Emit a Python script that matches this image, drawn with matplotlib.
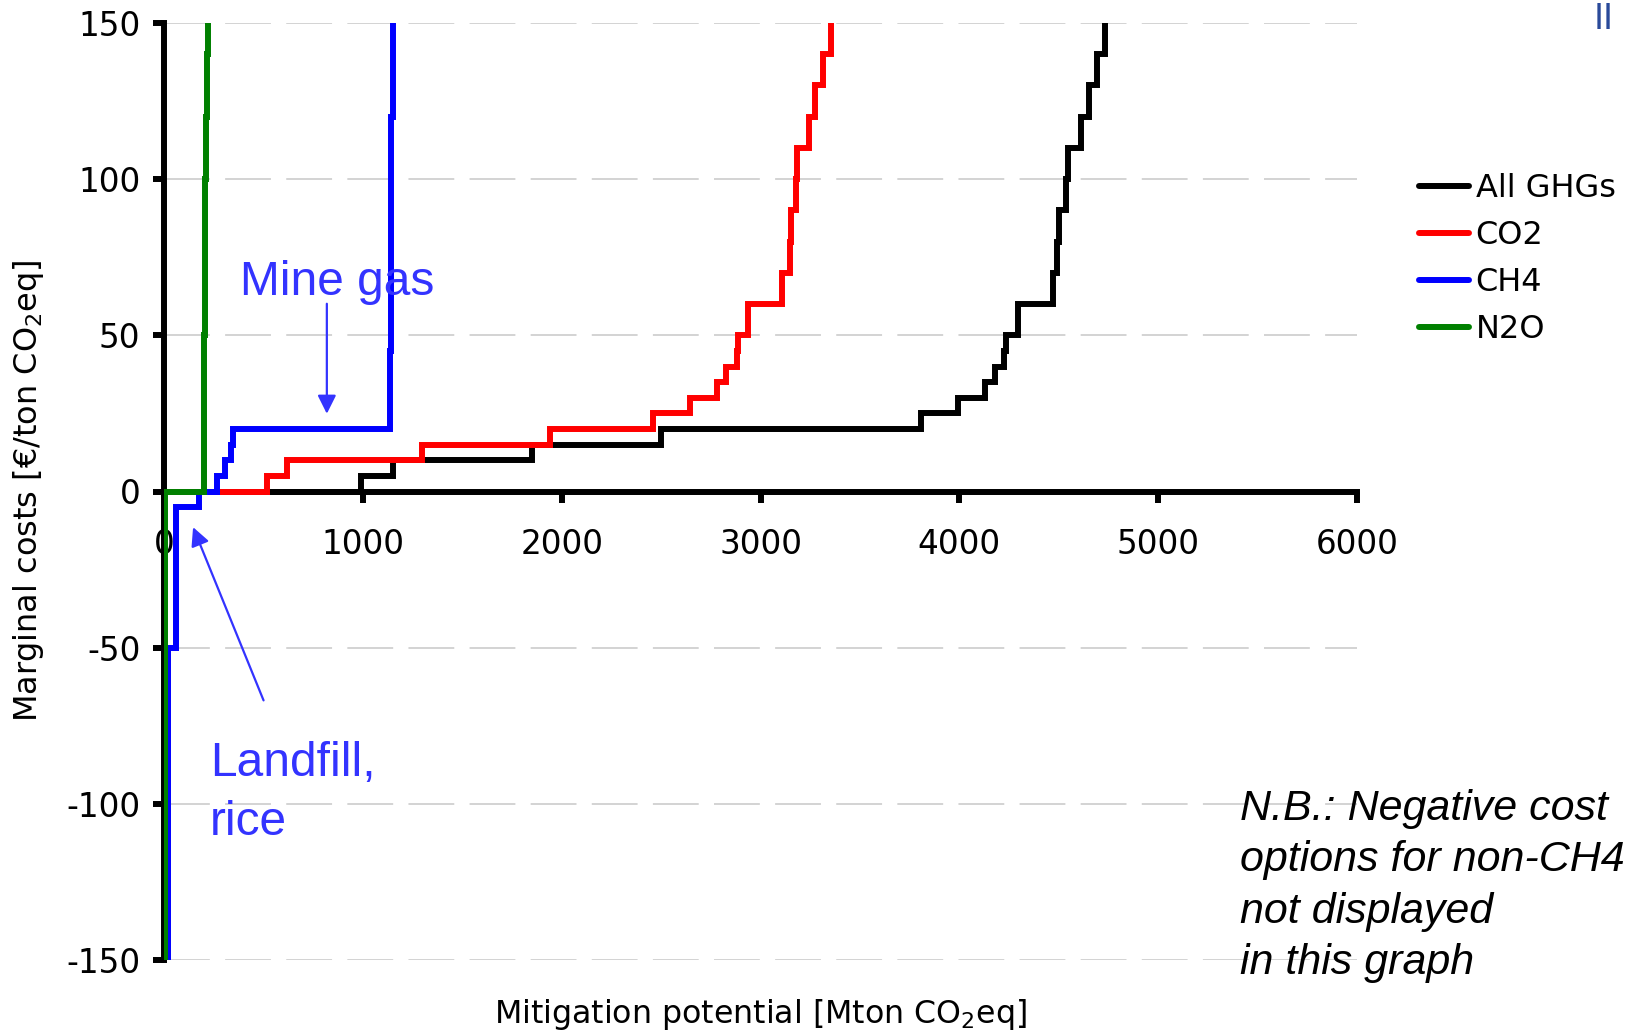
import numpy as np
import matplotlib
matplotlib.use("Agg")
from matplotlib import pyplot as plt
from matplotlib.lines import Line2D

# cost curves as steps: x = cumulative potential where each cost level starts
ghg_x = [0, 0, 990, 1150, 1850, 2500, 3806, 3995, 4129, 4179, 4225, 4233, 4297,
         4473, 4493, 4503, 4536, 4545, 4612, 4654, 4694, 4733]
ghg_y = [-150, 0, 5, 10, 15, 20, 25, 30, 35, 40, 45, 50, 60,
         70, 80, 90, 100, 110, 120, 130, 140, 160]

co2_x = [0, 517, 617, 1296, 1941, 2461, 2646, 2780, 2827, 2880, 2885, 2939,
         3107, 3148, 3153, 3179, 3182, 3245, 3274, 3316, 3353]
co2_y = [0, 5, 10, 15, 20, 25, 30, 35, 40, 45, 50, 60,
         70, 80, 90, 100, 110, 120, 130, 140, 160]

ch4_x = [22, 22, 60, 178, 265, 307, 338, 345, 1137, 1142, 1150]
ch4_y = [-150, -50, -5, 0, 5, 10, 15, 20, 45, 120, 160]

n2o_x = [5, 5, 200, 204, 210, 216, 222]
n2o_y = [-150, 0, 50, 100, 120, 140, 160]

names = ["All GHGs", "CO2", "CH4", "N2O"]
colors = ["black", "#ff0000", "#0000ff", "#008000"]

xticks = [0, 1000, 2000, 3000, 4000, 5000, 6000]
yticks = [-150, -100, -50, 0, 50, 100, 150]

note_col = "#3333ff"

plt.rcParams["font.family"] = ["DejaVu Sans"]

fig = plt.figure(figsize=(16.27, 10.33), dpi=100)
W, H = 1627, 1033
ax = fig.add_axes([164 / W, 1 - 960 / H, (1357 - 164) / W, (960 - 23) / H])

lw = 4.3
for xs, ys, c in zip([ghg_x, co2_x, ch4_x, n2o_x], [ghg_y, co2_y, ch4_y, n2o_y], colors):
    ax.step(xs, ys, where="post", color=c, lw=lw, zorder=3,
            solid_joinstyle="miter", solid_capstyle="butt")

ax.set_xlim(0, 6000)
ax.set_ylim(-150, 150)
ax.set_xticks(xticks)
ax.set_yticks(yticks)
ax.set_xticklabels([str(v) for v in xticks])
ax.set_yticklabels([str(v) for v in yticks])

ax.spines["top"].set_visible(False)
ax.spines["right"].set_visible(False)
ax.spines["bottom"].set_position(("data", 0))
ax.spines["left"].set_linewidth(lw)
ax.spines["bottom"].set_linewidth(lw)
ax.tick_params(axis="both", width=lw, length=8, labelsize=23.5, color="black")
ax.tick_params(axis="x", pad=18)
ax.tick_params(axis="y", pad=9)

ax.yaxis.grid(True, color="#c8c8c8", lw=1.1, linestyle=(0, (30, 10)))
ax.set_axisbelow(True)

# annotations
ax.text(382, 63, "Mine gas", color=note_col, fontsize=34.5, family="Liberation Sans",
        va="baseline", ha="left")
ax.annotate("", xy=(819, 24), xytext=(819, 61),
            arrowprops=dict(arrowstyle="-|>", color=note_col, lw=1.6, mutation_scale=28))
ax.text(231, -80, "Landfill,\nrice", color=note_col, fontsize=34.5, family="Liberation Sans",
        va="top", ha="left", linespacing=1.38)
ax.annotate("", xy=(141, -10.6), xytext=(506, -67.7),
            arrowprops=dict(arrowstyle="-|>", color=note_col, lw=1.6, mutation_scale=28))

fig.text(1240 / W, 1 - 789 / H, "N.B.: Negative cost\noptions for non-CH4\nnot displayed\nin this graph",
         fontsize=31, style="italic", family="Liberation Sans", va="top", ha="left",
         linespacing=1.37)

fig.text(760 / W, 1 - 1015 / H, "Mitigation potential [Mton CO$_2$eq]",
         fontsize=22.8, ha="center", va="center")
fig.text(29 / W, 1 - 491 / H, "Marginal costs [\u20ac/ton CO$_2$eq]",
         fontsize=23, ha="center", va="center", rotation=90)

handles = [Line2D([], [], color=c, lw=lw, solid_capstyle="round") for c in colors]
ax.legend(handles, names, loc="upper left", bbox_to_anchor=(1419 / W, 1 - 173 / H),
          bbox_transform=fig.transFigure, frameon=False, fontsize=23,
          handlelength=1.55, handletextpad=0.22, labelspacing=0.5,
          borderpad=0, borderaxespad=0)

# logo fragment at the corner
fig.text(1594 / W, 1 - 2 / H, "II", color="#2a4a9a", fontsize=26, va="top", ha="left",
         family="Liberation Sans")

fig.savefig("out.png", dpi=100)
